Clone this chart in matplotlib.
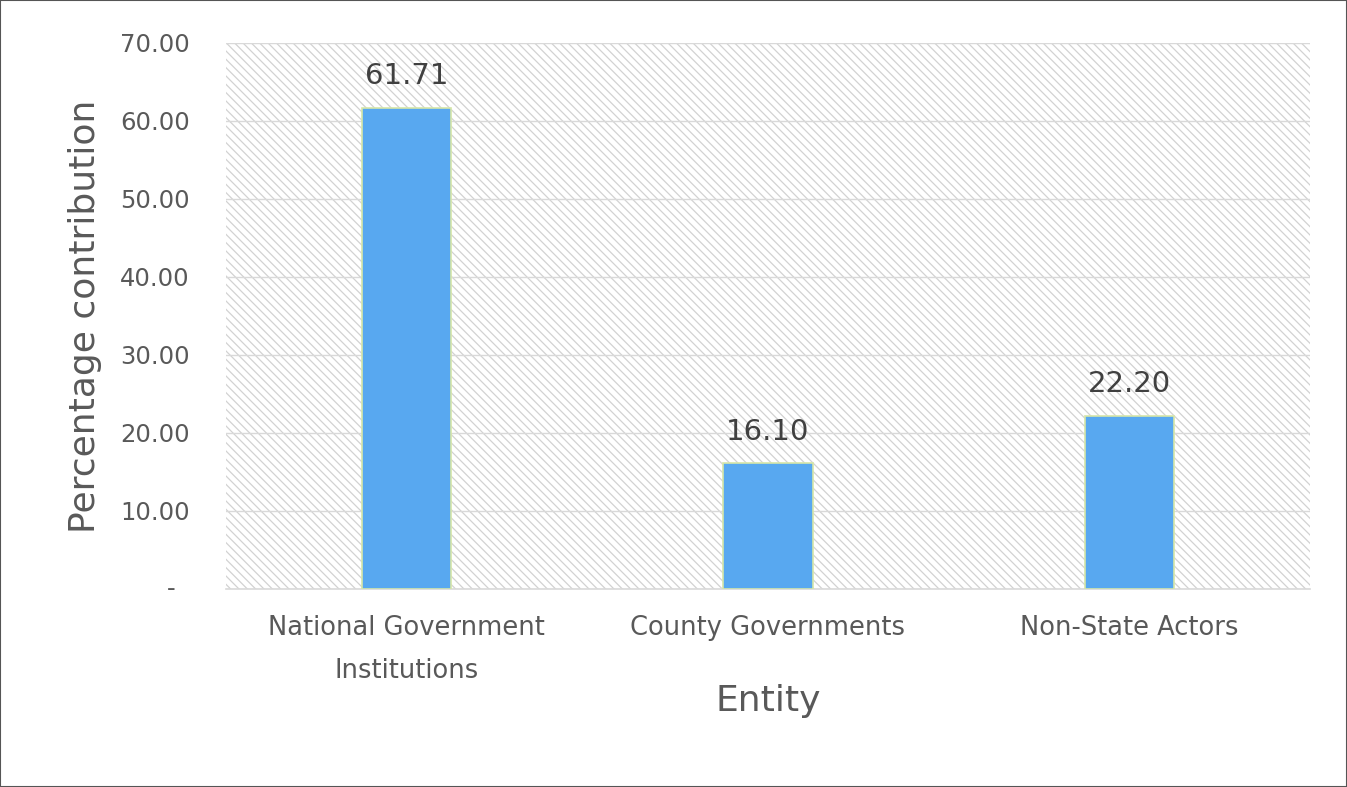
import matplotlib
matplotlib.use("Agg")
import matplotlib.pyplot as plt
from matplotlib.patches import Rectangle
from matplotlib.transforms import blended_transform_factory

categories = ["National Government\nInstitutions", "County Governments", "Non-State Actors"]
values = [61.71, 16.10, 22.20]
yticks = [0, 10, 20, 30, 40, 50, 60, 70]
ytick_labels = ["", "10.00", "20.00", "30.00", "40.00", "50.00", "60.00", "70.00"]

plt.rcParams['font.family'] = ['DejaVu Sans']
plt.rcParams['hatch.color'] = '#d2d2d2'
plt.rcParams['hatch.linewidth'] = 0.9

fig = plt.figure(figsize=(13.47, 7.87), dpi=100)
ax = fig.add_axes([226/1347, 1-589/787, (1310-226)/1347, (589-43)/787])

# hatched plot-area background
ax.add_patch(Rectangle((0, 0), 1, 1, transform=ax.transAxes, facecolor='white',
                       edgecolor='#d2d2d2', hatch='\\\\\\\\', linewidth=0, zorder=0))

x = list(range(len(categories)))
bars = ax.bar(x, values, width=0.247, color='#58a8f0', edgecolor='#d6e6a8', linewidth=1.2, zorder=3)
for xi, v in zip(x, values):
    ax.text(xi, v + 3.0, f"{v:.2f}", ha='center', va='baseline', fontsize=21, color='#404040', zorder=4)

ax.set_xlim(-0.5, 2.5)
ax.set_ylim(0, 70)
ax.set_yticks(yticks)
ax.set_yticklabels(ytick_labels, fontsize=17.5, color='#595959')
ax.set_xticks(x)
ax.set_xticklabels(categories, fontsize=18.5, color='#595959', linespacing=1.85, va='top')
ax.tick_params(axis='y', length=0, pad=26)
ax.tick_params(axis='x', length=0, pad=19)
# accounting-style zero label
trans = blended_transform_factory(fig.transFigure, ax.transData)
ax.text(171/1347, 0, "-", transform=trans, ha='center', va='center', fontsize=17.5, color='#595959')

ax.yaxis.grid(True, color='#d9d9d9', linewidth=1.0, zorder=1)
ax.set_axisbelow(True)
for s in ['top', 'right', 'left']:
    ax.spines[s].set_visible(False)
ax.spines['bottom'].set_color('#d9d9d9')
ax.spines['bottom'].set_linewidth(1.2)

ax.set_ylabel("Percentage contribution", fontsize=26, color='#595959')
ax.yaxis.set_label_coords((102-226)/1084, 0.5)
ax.set_xlabel("Entity", fontsize=26, color='#595959')
ax.xaxis.set_label_coords(0.5, (589-684)/546)

# figure border
fig.add_artist(Rectangle((0, 0), 1, 1, transform=fig.transFigure, fill=False,
                         edgecolor='#555555', linewidth=1.5))

fig.savefig("out.png", dpi=100)
